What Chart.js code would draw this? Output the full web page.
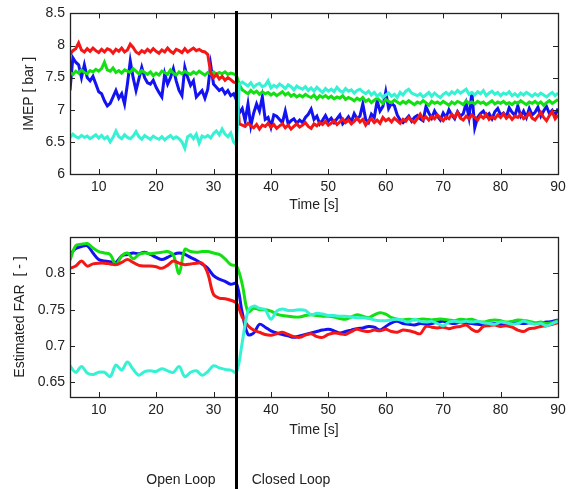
<!DOCTYPE html>
<html>
<head>
<meta charset="utf-8">
<script src="https://cdn.jsdelivr.net/npm/chart.js"></script>
<style>
  body { margin: 0; background: #fff; }
  #wrap { position: relative; width: 571px; height: 489px; font-family: "Liberation Sans", Arial, sans-serif; }
  canvas { position: absolute; left: 0; }
  .note { position: absolute; top: 471px; font-size: 14px; line-height: 16px; color: #222; transform: translateX(-50%); white-space: nowrap; }
</style>
</head>
<body>
<div id="wrap">
  <canvas id="imepChart" width="571" height="220" style="top:0"></canvas>
  <canvas id="farChart" width="571" height="269" style="top:220px"></canvas>
  <div class="note" style="left:181px">Open Loop</div>
  <div class="note" style="left:291px">Closed Loop</div>
</div>
<script>
const FONT = '"Liberation Sans", Arial, sans-serif';
const TEXT = '#222';
const switchTime = 34; // open loop -> closed loop

const timeTicks = [10, 20, 30, 40, 50, 60, 70, 80, 90];
const imepTicks = [6, 6.5, 7, 7.5, 8, 8.5];
const farTicks = [0.65, 0.7, 0.75, 0.8];

// IMEP, sampled every 0.5 s from 5 s to 90 s
const imepRed = [
  7.86, 7.92, 7.95, 8.04, 7.93, 7.90, 7.95, 7.91, 7.96, 7.92, 7.89,
  7.94, 7.90, 7.95, 7.93, 7.88, 7.94, 7.91, 7.96, 7.90, 7.93,
  8.02, 7.97, 7.90, 7.87, 7.92, 7.89, 7.94, 7.90, 7.95, 7.91,
  7.88, 7.93, 7.90, 7.96, 7.91, 7.88, 7.94, 7.92, 7.89, 7.95,
  7.90, 7.93, 7.96, 7.92, 7.94, 7.91, 7.90, 7.86, 7.58, 7.50,
  7.55, 7.48, 7.52, 7.46, 7.50, 7.47, 7.43, 7.42, 6.78, 6.76,
  6.74, 6.79, 6.75, 6.72, 6.77, 6.70, 6.76, 6.74, 6.79, 6.73,
  6.77, 6.71, 6.75, 6.78, 6.72, 6.76, 6.70, 6.74, 6.78, 6.73,
  6.76, 6.80, 6.74, 6.71, 6.78, 6.75, 6.80, 6.77, 6.82, 6.76,
  6.79, 6.83, 6.77, 6.81, 6.86, 6.80, 6.84, 6.78, 6.82, 6.87,
  6.81, 6.85, 6.76, 6.82, 6.86, 6.80, 6.84, 6.79, 6.88, 6.83,
  6.86, 6.81, 6.87, 6.83, 6.79, 6.85, 6.82, 6.88, 6.84, 6.80,
  6.86, 6.93, 6.85, 6.89, 6.84, 6.90, 6.86, 6.92, 6.87, 6.83,
  6.89, 6.86, 6.93, 6.88, 6.96, 6.87, 6.84, 6.90, 6.86, 6.92,
  6.88, 6.84, 6.91, 6.87, 6.93, 6.85, 6.89, 6.86, 6.92, 6.88,
  6.94, 6.87, 6.91, 6.85, 6.90, 6.88, 6.93, 6.86, 6.89, 6.95,
  6.87, 6.84, 6.90, 6.96, 6.88, 6.83, 6.91, 6.97, 6.86, 6.92
];
const imepBlue = [
  7.30, 7.81, 7.74, 7.70, 7.50, 7.70, 7.50, 7.45, 7.52, 7.40, 7.28,
  7.25, 7.14, 7.06, 7.10, 7.20, 7.30, 7.18, 7.25, 7.09, 7.40,
  7.76, 7.50, 7.30, 7.48, 7.66, 7.50, 7.42, 7.40, 7.46, 7.35,
  7.27, 7.20, 7.56, 7.40, 7.50, 7.64, 7.45, 7.30, 7.22, 7.66,
  7.50, 7.38, 7.45, 7.20, 7.25, 7.30, 7.18, 7.32, 7.70, 7.40,
  7.35, 7.30, 7.33, 7.25, 7.30, 7.22, 7.25, 7.15, 6.95, 7.02,
  6.83, 7.09, 6.75, 6.95, 7.09, 6.98, 7.20, 6.85, 6.88, 6.73,
  6.92, 6.90, 6.85, 6.80, 6.98, 6.78, 6.83, 6.86, 6.79, 6.84,
  6.80, 6.88, 6.93, 7.01, 6.85, 6.90, 6.78, 6.84, 6.91, 6.82,
  6.87, 6.80, 6.86, 6.92, 6.78, 6.83, 6.89, 6.81, 6.94, 6.86,
  6.90, 7.09, 6.85, 6.80, 6.93, 6.88, 7.14, 6.98, 7.05, 7.28,
  7.02, 7.10, 7.06, 6.92, 6.84, 6.80, 6.85, 6.90, 6.82, 6.88,
  6.91, 6.86, 6.83, 7.05, 6.95, 6.87, 6.98, 6.90, 6.84, 6.95,
  6.88, 7.00, 6.92, 6.86, 6.97, 6.90, 6.94, 7.10, 6.88, 7.27,
  6.72, 6.88, 6.94, 6.98, 6.90, 6.94, 6.86, 6.97, 7.02, 6.92,
  6.95, 6.89, 7.03, 6.96, 6.91, 7.06, 6.90, 6.98, 6.88, 7.02,
  6.92, 6.96, 7.04, 6.90, 6.98, 7.05, 6.94, 6.99, 6.91, 7.02
];
const imepGreen = [
  7.58, 7.55, 7.60, 7.57, 7.62, 7.58, 7.56, 7.61, 7.59, 7.63, 7.60,
  7.64, 7.74, 7.62, 7.60, 7.65, 7.58, 7.61, 7.57, 7.62, 7.60,
  7.58, 7.64, 7.60, 7.56, 7.61, 7.58, 7.55, 7.59, 7.53, 7.57,
  7.54, 7.60, 7.58, 7.55, 7.62, 7.57, 7.54, 7.59, 7.56, 7.60,
  7.57, 7.55, 7.59, 7.56, 7.60, 7.57, 7.54, 7.58, 7.56, 7.59,
  7.55, 7.58, 7.56, 7.59, 7.55, 7.57, 7.56, 7.53, 7.39, 7.31,
  7.28, 7.25, 7.30, 7.26, 7.29, 7.24, 7.28, 7.25, 7.27, 7.23,
  7.26, 7.22, 7.25, 7.28, 7.23, 7.26, 7.21, 7.24, 7.20, 7.23,
  7.20, 7.24, 7.21, 7.19, 7.23, 7.17, 7.22, 7.19, 7.22, 7.18,
  7.21, 7.17, 7.20, 7.18, 7.22, 7.16, 7.19, 7.17, 7.14, 7.18,
  7.15, 7.19, 7.13, 7.16, 7.11, 7.15, 7.18, 7.14, 7.10, 7.16,
  7.13, 7.11, 7.15, 7.12, 7.09, 7.13, 7.10, 7.14, 7.11, 7.08,
  7.12, 7.10, 7.14, 7.11, 7.07, 7.13, 7.10, 7.12, 7.09, 7.13,
  7.10, 7.07, 7.12, 7.09, 7.13, 7.11, 7.08, 7.14, 7.10, 7.12,
  7.09, 7.13, 7.10, 7.12, 7.08, 7.11, 7.14, 7.09, 7.12, 7.10,
  7.13, 7.09, 7.11, 7.08, 7.12, 7.10, 7.14, 7.11, 7.08, 7.12,
  7.10, 7.13, 7.09, 7.12, 7.07, 7.11, 7.14, 7.10, 7.13, 7.16
];
const imepCyan = [
  6.57, 6.62, 6.58, 6.56, 6.60, 6.57, 6.59, 6.55, 6.58, 6.61, 6.56,
  6.60, 6.55, 6.58, 6.50, 6.57, 6.67, 6.58, 6.55, 6.61, 6.57,
  6.55, 6.59, 6.66, 6.58, 6.54, 6.60, 6.57, 6.54, 6.59, 6.56,
  6.54, 6.58, 6.53, 6.57, 6.60, 6.55, 6.58, 6.55, 6.50, 6.40,
  6.58, 6.61, 6.55, 6.62, 6.48, 6.59, 6.57, 6.60, 6.56, 6.63,
  6.67, 6.61, 6.70, 6.62, 6.58, 6.64, 6.50, 6.45, 7.40, 7.43,
  7.40, 7.37, 7.42, 7.35, 7.39, 7.41, 7.36, 7.38, 7.45, 7.34,
  7.38, 7.35, 7.40, 7.37, 7.33, 7.39, 7.36, 7.31, 7.37, 7.34,
  7.32, 7.36, 7.30, 7.34, 7.29, 7.35, 7.31, 7.27, 7.33, 7.29,
  7.32, 7.28, 7.35, 7.30, 7.27, 7.33, 7.29, 7.31, 7.26, 7.30,
  7.32, 7.28, 7.25, 7.29, 7.23, 7.27, 7.21, 7.25, 7.19, 7.23,
  7.26, 7.21, 7.24, 7.19, 7.27, 7.23, 7.29, 7.32, 7.26, 7.24,
  7.22, 7.25, 7.20, 7.23, 7.27, 7.21, 7.26, 7.22, 7.19, 7.24,
  7.27, 7.23, 7.28, 7.25, 7.30, 7.26, 7.29, 7.32, 7.24, 7.27,
  7.23, 7.28, 7.25, 7.30, 7.22, 7.26, 7.29, 7.24, 7.27, 7.22,
  7.26, 7.24, 7.28, 7.22, 7.25, 7.21, 7.26, 7.23, 7.27, 7.24,
  7.21, 7.25, 7.22, 7.26, 7.23, 7.20, 7.24, 7.27, 7.22, 7.26
];

// estimated FAR, sampled every 1 s from 5 s to 90 s
const farBlue = [
  0.826, 0.834, 0.837, 0.838, 0.828, 0.819, 0.817, 0.816, 0.815, 0.824,
  0.826, 0.828, 0.827, 0.829, 0.826, 0.822, 0.819, 0.822, 0.826, 0.828,
  0.826, 0.822, 0.818, 0.813, 0.807, 0.797, 0.792, 0.789, 0.785, 0.786,
  0.746, 0.716, 0.718, 0.730, 0.726, 0.721, 0.718, 0.716, 0.714, 0.712,
  0.714, 0.716, 0.718, 0.720, 0.722, 0.723, 0.721, 0.718, 0.720, 0.722,
  0.724, 0.725, 0.727, 0.726, 0.722, 0.727, 0.732, 0.734, 0.731, 0.730,
  0.729, 0.731, 0.730, 0.731, 0.733, 0.734, 0.732, 0.731, 0.733, 0.732,
  0.731, 0.730, 0.729, 0.730, 0.731, 0.730, 0.729, 0.731, 0.732, 0.731,
  0.732, 0.731, 0.732, 0.733, 0.734, 0.736
];
const farGreen = [
  0.818, 0.838, 0.840, 0.841, 0.835, 0.830, 0.828, 0.826, 0.812, 0.824,
  0.828, 0.820, 0.826, 0.828, 0.827, 0.828, 0.829, 0.830, 0.825, 0.800,
  0.833, 0.830, 0.829, 0.830, 0.830, 0.828, 0.826, 0.820, 0.812, 0.810,
  0.785, 0.747, 0.752, 0.750, 0.750, 0.748, 0.744, 0.742, 0.741, 0.740,
  0.740, 0.742, 0.743, 0.742, 0.741, 0.741, 0.740, 0.738, 0.737, 0.740,
  0.743, 0.741, 0.739, 0.743, 0.746, 0.744, 0.739, 0.737, 0.736, 0.737,
  0.736, 0.737, 0.737, 0.736, 0.737, 0.737, 0.736, 0.735, 0.737, 0.736,
  0.737, 0.734, 0.733, 0.735, 0.736, 0.735, 0.733, 0.734, 0.736, 0.735,
  0.734, 0.732, 0.733, 0.731, 0.732, 0.735
];
const farRed = [
  0.807, 0.810, 0.817, 0.810, 0.813, 0.814, 0.814, 0.813, 0.812, 0.815,
  0.819, 0.815, 0.811, 0.810, 0.810, 0.809, 0.807, 0.811, 0.817, 0.814,
  0.812, 0.813, 0.814, 0.814, 0.800, 0.771, 0.766, 0.765, 0.763, 0.759,
  0.740, 0.728, 0.722, 0.719, 0.716, 0.715, 0.717, 0.719, 0.716, 0.713,
  0.712, 0.715, 0.717, 0.713, 0.712, 0.716, 0.718, 0.717, 0.716, 0.720,
  0.723, 0.721, 0.720, 0.722, 0.721, 0.723, 0.720, 0.719, 0.722, 0.721,
  0.719, 0.717, 0.727, 0.726, 0.725, 0.726, 0.724, 0.726, 0.727, 0.729,
  0.723, 0.720, 0.727, 0.728, 0.729, 0.727, 0.728, 0.726, 0.722, 0.720,
  0.724, 0.725, 0.727, 0.728, 0.730, 0.732
];
const farCyan = [
  0.673, 0.664, 0.672, 0.663, 0.661, 0.664, 0.664, 0.658, 0.674, 0.667,
  0.678, 0.668, 0.660, 0.665, 0.666, 0.665, 0.669, 0.666, 0.664, 0.672,
  0.658, 0.664, 0.666, 0.660, 0.665, 0.673, 0.670, 0.668, 0.667, 0.664,
  0.705, 0.748, 0.755, 0.752, 0.750, 0.737, 0.748, 0.751, 0.749, 0.749,
  0.750, 0.749, 0.743, 0.745, 0.744, 0.742, 0.742, 0.741, 0.741, 0.740,
  0.739, 0.739, 0.738, 0.736, 0.735, 0.735, 0.736, 0.737, 0.735, 0.733,
  0.737, 0.734, 0.733, 0.734, 0.731, 0.728, 0.733, 0.734, 0.733, 0.734,
  0.733, 0.734, 0.732, 0.731, 0.730, 0.733, 0.732, 0.730, 0.731, 0.734,
  0.732, 0.730, 0.731, 0.728, 0.731, 0.734
];

const imepTime = imepRed.map((_, i) => 5 + i * 0.5);
const farTime = farRed.map((_, i) => 5 + i);

const colors = { blue: '#1212f2', green: '#12e012', red: '#f51616', cyan: '#36f2d4' };

// box, inward ticks on all four sides and the open/closed loop divider
const framePlugin = {
  id: 'frame',
  afterDatasetsDraw(chart, args, opts) {
    const { ctx, chartArea: a } = chart;
    const x = chart.scales.x, y = chart.scales.y;
    ctx.save();
    ctx.strokeStyle = TEXT;
    ctx.lineWidth = 1;
    ctx.beginPath();
    x.ticks.forEach(t => {
      const px = Math.round(x.getPixelForValue(t.value)) + 0.5;
      ctx.moveTo(px, a.bottom); ctx.lineTo(px, a.bottom - 5);
      ctx.moveTo(px, a.top); ctx.lineTo(px, a.top + 5);
    });
    y.ticks.forEach(t => {
      const py = Math.round(y.getPixelForValue(t.value)) + 0.5;
      ctx.moveTo(a.left, py); ctx.lineTo(a.left + 5, py);
      ctx.moveTo(a.right, py); ctx.lineTo(a.right - 5, py);
    });
    ctx.stroke();
    ctx.lineWidth = 1.3;
    ctx.strokeRect(Math.round(a.left) + 0.5, Math.round(a.top) + 0.5, Math.round(a.width), Math.round(a.height));

    const sx = x.getPixelForValue(switchTime);
    ctx.strokeStyle = '#000';
    ctx.lineWidth = 3;
    ctx.beginPath();
    ctx.moveTo(sx, opts.lineFrom);
    ctx.lineTo(sx, chart.height);
    ctx.stroke();
    ctx.restore();
  }
};

// MATLAB style labels: 8 not 8.0, 0.7 not 0.70
const plainLabel = v => String(Math.round(v * 1000) / 1000);

function makeChart(id, cfg) {
  const font = { family: FONT, size: 14 };
  return new Chart(document.getElementById(id), {
    type: 'line',
    data: {
      datasets: cfg.series.map(s => ({
        data: cfg.time.map((t, i) => ({ x: t, y: s.values[i] })),
        borderColor: s.color,
        borderWidth: 3,
        pointRadius: 0,
        fill: false,
        tension: cfg.tension
      }))
    },
    options: {
      responsive: false,
      animation: false,
      layout: { padding: cfg.padding },
      plugins: {
        legend: { display: false },
        tooltip: { enabled: false },
        frame: { lineFrom: cfg.lineFrom }
      },
      scales: {
        x: {
          type: 'linear',
          min: 5,
          max: 90,
          grid: { display: false, drawTicks: false },
          border: { display: false },
          afterBuildTicks: s => { s.ticks = timeTicks.map(v => ({ value: v })); },
          afterFit: s => { s.height = 46; },
          ticks: { font, color: TEXT, padding: 5, maxRotation: 0, callback: plainLabel },
          title: { display: true, text: 'Time [s]', font, color: TEXT, padding: { top: 0, bottom: cfg.xTitlePad } }
        },
        y: {
          min: cfg.yMin,
          max: cfg.yMax,
          grid: { display: false, drawTicks: false },
          border: { display: false },
          afterBuildTicks: s => { s.ticks = cfg.yTicks.map(v => ({ value: v })); },
          afterFit: s => { s.width = 70; },
          ticks: { font, color: TEXT, padding: 5, callback: plainLabel },
          title: { display: true, text: cfg.yTitle, font, color: TEXT, padding: { top: cfg.yTitlePad, bottom: 0 } }
        }
      }
    },
    plugins: [framePlugin]
  });
}

makeChart('imepChart', {
  time: imepTime,
  series: [
    { values: imepCyan, color: colors.cyan },
    { values: imepRed, color: colors.red },
    { values: imepGreen, color: colors.green },
    { values: imepBlue, color: colors.blue }
  ],
  tension: 0,
  padding: { top: 13, right: 13, bottom: 0, left: 0 },
  yMin: 6, yMax: 8.5, yTicks: imepTicks,
  yTitle: 'IMEP [ bar ]', yTitlePad: 21,
  xTitlePad: 6.6,
  lineFrom: 11
});

makeChart('farChart', {
  time: farTime,
  series: [
    { values: farCyan, color: colors.cyan },
    { values: farRed, color: colors.red },
    { values: farGreen, color: colors.green },
    { values: farBlue, color: colors.blue }
  ],
  tension: 0.35,
  padding: { top: 17, right: 13, bottom: 46, left: 0 },
  yMin: 0.63, yMax: 0.85, yTicks: farTicks,
  yTitle: 'Estimated FAR  [ - ]', yTitlePad: 11.6,
  xTitlePad: 4.6,
  lineFrom: 0
});
</script>
</body>
</html>
